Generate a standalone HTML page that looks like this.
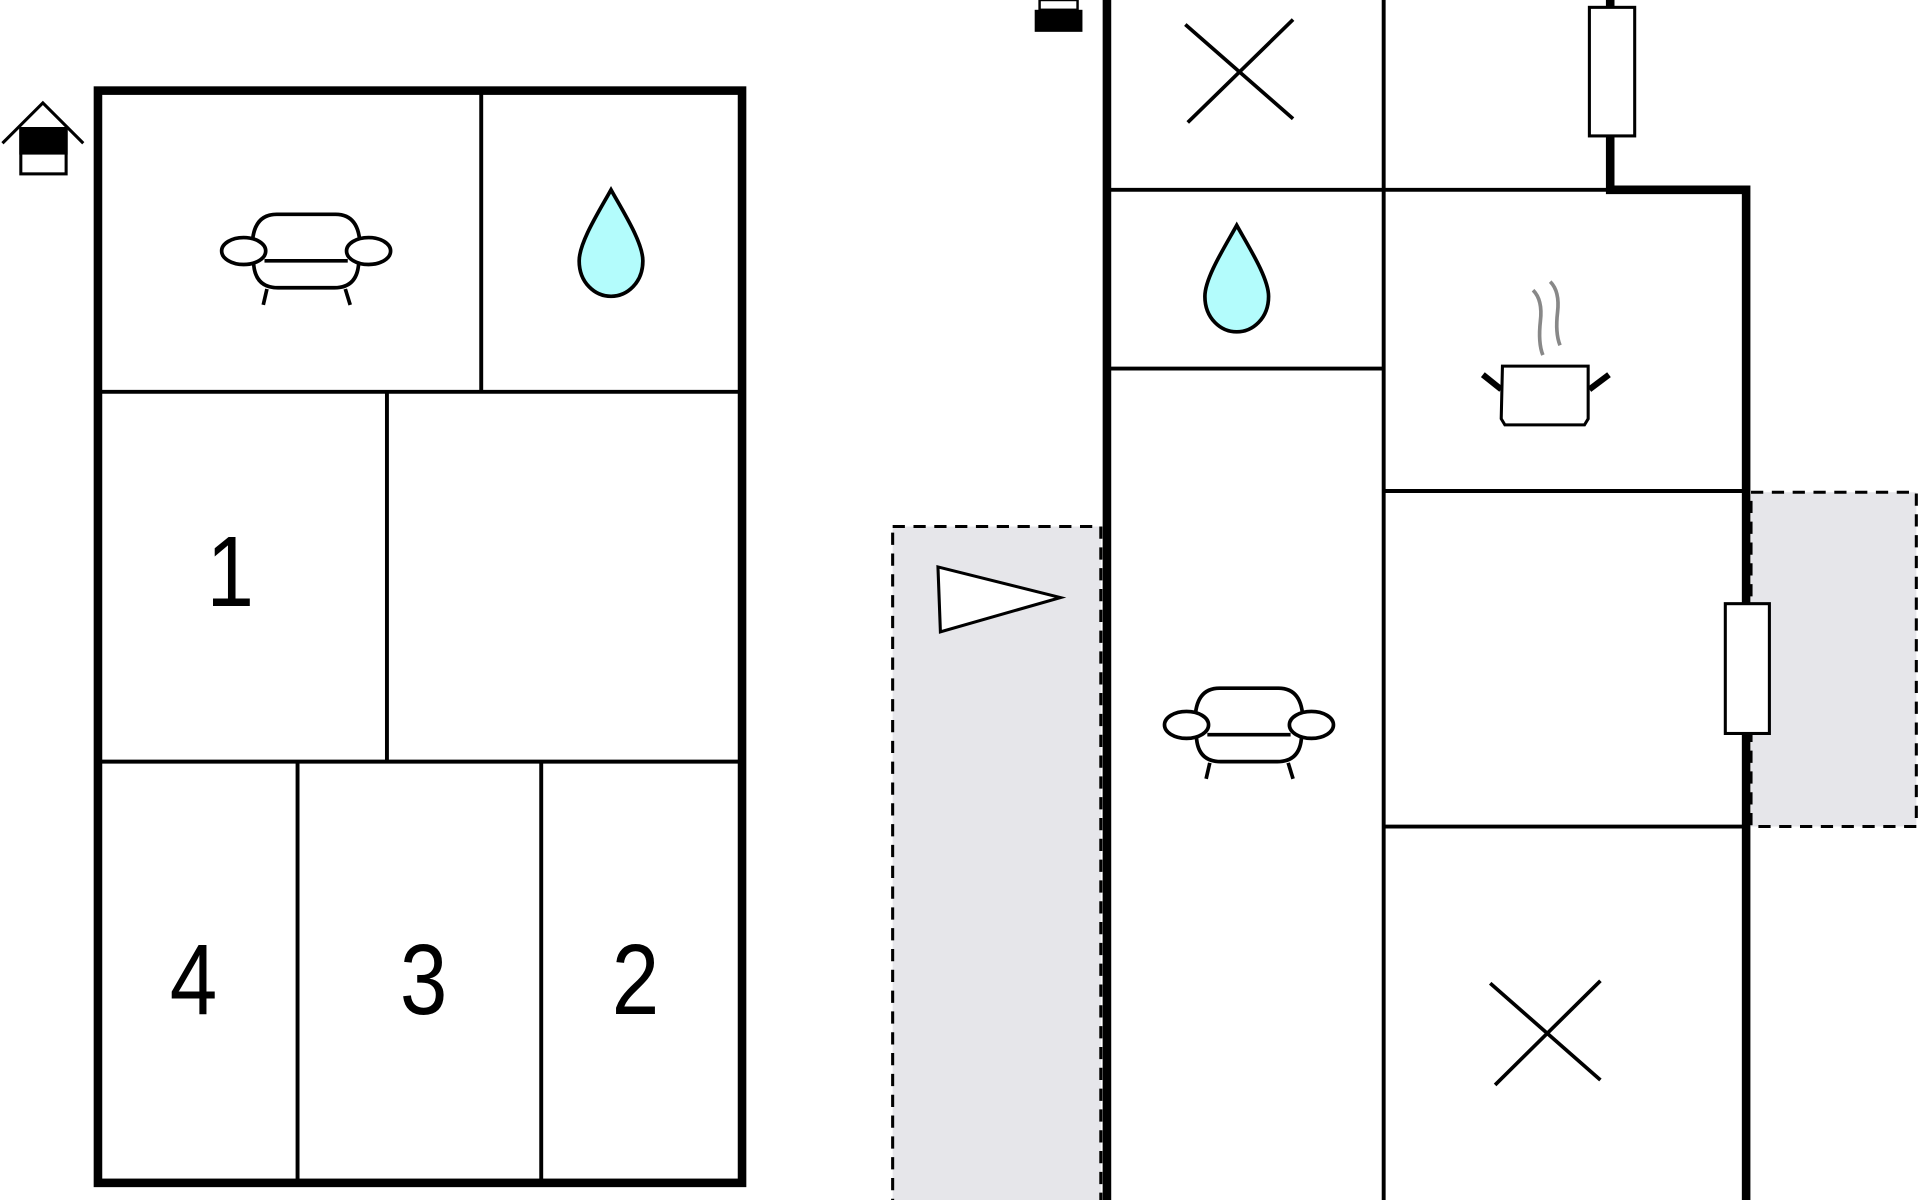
<!DOCTYPE html>
<html><head><style>html,body{margin:0;padding:0;background:#fff}svg{display:block}</style></head><body>
<svg width="1920" height="1200" viewBox="0 0 1568 980" xmlns="http://www.w3.org/2000/svg">
<defs>
<g id="sofa" fill="#fff" stroke="#000" stroke-width="3">
<path d="M-44,-6 Q-44,-33 -24,-33 L24,-33 Q44,-33 44,-6"/>
<path d="M-43,4 Q-43,27 -23,27 L23,27 Q43,27 43,4"/>
<line x1="-34" y1="5" x2="34" y2="5"/>
<ellipse cx="-51" cy="-3" rx="18" ry="11"/>
<ellipse cx="51" cy="-3" rx="18" ry="11"/>
<line x1="-32" y1="28" x2="-35" y2="41"/><line x1="32" y1="28" x2="36" y2="41"/>
</g>
<path id="drop" d="M0,-43 C-10,-25 -26,0 -26,15 C-26,33 -13,44 0,44 C13,44 26,33 26,15 C26,0 10,-25 0,-43 Z" fill="#b3fcfc" stroke="#000" stroke-width="3"/>
</defs>
<g fill="none" stroke="#000">
<rect x="80" y="74" width="526" height="892" stroke-width="7"/>
<g stroke-width="3.2">
<line x1="80" y1="320" x2="606" y2="320"/>
<line x1="393" y1="74" x2="393" y2="320"/>
<line x1="80" y1="622" x2="606" y2="622"/>
<line x1="316" y1="320" x2="316" y2="622"/>
<line x1="243" y1="622" x2="243" y2="966"/>
<line x1="442" y1="622" x2="442" y2="966"/>
</g>
</g>
<g stroke="#000" fill="none" stroke-width="2.5">
<polyline points="2,117 35,84 68,117"/>
<rect x="17" y="105" width="37" height="37" fill="#fff"/>
<rect x="17" y="105" width="37" height="20" fill="#000"/>
</g>
<g font-family="Liberation Sans, sans-serif" font-size="82" text-anchor="middle" fill="#000">
<text x="188" y="495" transform="translate(188 0) scale(0.85 1) translate(-188 0)">1</text>
<text x="158" y="828" transform="translate(158 0) scale(0.85 1) translate(-158 0)">4</text>
<text x="346" y="828" transform="translate(346 0) scale(0.85 1) translate(-346 0)">3</text>
<text x="519" y="828" transform="translate(519 0) scale(0.85 1) translate(-519 0)">2</text>
</g>
<use href="#sofa" x="250" y="208"/>
<use href="#drop" x="499" y="198"/>
<rect x="729" y="430" width="170" height="560" fill="#e6e6ea" stroke="#000" stroke-width="2.5" stroke-dasharray="10,7"/>
<rect x="1430" y="402" width="135" height="273" fill="#e6e6ea" stroke="#000" stroke-width="2.5" stroke-dasharray="10,7"/>
<polygon points="766,463 866,488 768,516" fill="#fff" stroke="#000" stroke-width="2.5"/>
<g stroke="#000" fill="none">
<line x1="904" y1="0" x2="904" y2="980" stroke-width="7"/>
<line x1="1130" y1="0" x2="1130" y2="980" stroke-width="3.2"/>
<line x1="904" y1="155" x2="1313" y2="155" stroke-width="3.2"/>
<polyline points="1315,111 1315,155 1426,155 1426,980" stroke-width="7"/>
<line x1="1315" y1="0" x2="1315" y2="6" stroke-width="7"/>
<line x1="904" y1="301" x2="1130" y2="301" stroke-width="3.2"/>
<line x1="1130" y1="401" x2="1426" y2="401" stroke-width="3.2"/>
<line x1="1130" y1="675" x2="1426" y2="675" stroke-width="3.2"/>
<rect x="1298" y="6" width="37" height="105" fill="#fff" stroke-width="2.5"/>
<rect x="1409" y="493" width="36" height="106" fill="#fff" stroke-width="2.5"/>
<g stroke-width="3">
<line x1="968" y1="20" x2="1056" y2="97"/><line x1="970" y1="100" x2="1056" y2="16"/>
<line x1="1217" y1="803" x2="1307" y2="882"/><line x1="1221" y1="886" x2="1307" y2="801"/>
</g>
</g>
<rect x="845" y="8" width="39" height="18" fill="#000"/>
<rect x="849" y="0" width="31" height="8" fill="#fff" stroke="#000" stroke-width="2"/>
<use href="#drop" x="1010" y="227"/>
<use href="#sofa" x="1020" y="595"/>
<g stroke="#000" stroke-width="2.5" fill="#fff">
<path d="M1227,299 L1297,299 L1297,342 L1294,347 L1229,347 L1226,342 Z"/>
<line x1="1226" y1="318" x2="1211" y2="306" stroke-width="5"/>
<line x1="1298" y1="318" x2="1314" y2="306" stroke-width="5"/>
</g>
<g stroke="#888" stroke-width="3" fill="none">
<path d="M1252,237 Q1260,245 1258,262 Q1256,280 1260,290"/>
<path d="M1266,230 Q1274,238 1272,255 Q1270,272 1274,282"/>
</g>
</svg>
</body></html>
